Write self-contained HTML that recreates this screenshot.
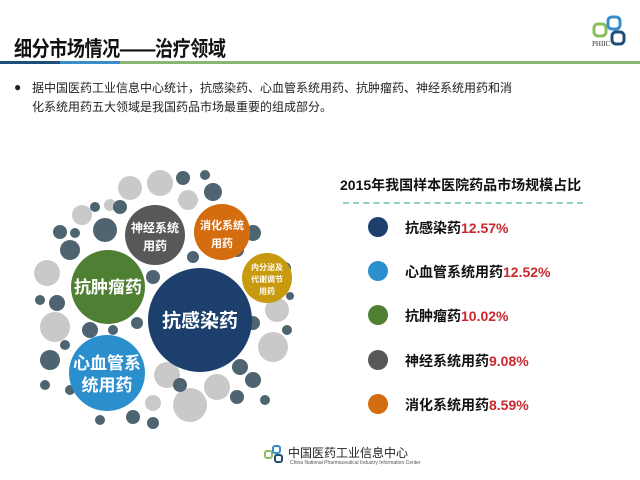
<!DOCTYPE html>
<html><head><meta charset="utf-8"><style>
body{margin:0;width:640px;height:480px;background:#fff;overflow:hidden;position:relative;font-family:"Liberation Sans","Noto Sans CJK SC",sans-serif}
.t{position:absolute;white-space:nowrap}
</style></head><body>
<div class="t" style="left:14px;top:33px;font-size:21px;font-weight:bold;color:#111;transform:scaleX(0.86);transform-origin:0 0;letter-spacing:-0.5px">细分市场情况——治疗领域</div>
<div style="position:absolute;left:0;top:61px;width:60px;height:3px;background:#1f4e79"></div>
<div style="position:absolute;left:60px;top:61px;width:60px;height:3px;background:#3a8dc8"></div>
<div style="position:absolute;left:120px;top:61px;width:520px;height:3px;background:#8ab573"></div>
<svg style="position:absolute;left:592px;top:14px" width="36" height="36" viewBox="0 0 36 36">
<rect x="2" y="10" width="12" height="12" rx="4" fill="none" stroke="#8bbf5a" stroke-width="3"/>
<rect x="16" y="3" width="12" height="12" rx="4" fill="none" stroke="#3a8dc8" stroke-width="3"/>
<rect x="20" y="18" width="12" height="12" rx="4" fill="none" stroke="#1f4e79" stroke-width="3"/>
<text x="0" y="32" font-size="7" font-family="Liberation Serif" fill="#333">PHIIC</text></svg>
<div class="t" style="left:14px;top:80px;font-size:12px;color:#222">●</div>
<div class="t" style="left:32px;top:79px;font-size:12px;color:#222;line-height:19px">据中国医药工业信息中心统计，抗感染药、心血管系统用药、抗肿瘤药、神经系统用药和消<br>化系统用药五大领域是我国药品市场最重要的组成部分。</div>

<svg style="position:absolute;left:0;top:0" width="330" height="440">
<g fill="#c9c9c9">
<circle cx="160" cy="183" r="13"/><circle cx="130" cy="188" r="12"/><circle cx="188" cy="200" r="10"/><circle cx="82" cy="215" r="10"/><circle cx="47" cy="273" r="13"/><circle cx="55" cy="327" r="15"/><circle cx="277" cy="310" r="12"/><circle cx="273" cy="347" r="15"/><circle cx="167" cy="375" r="13"/><circle cx="217" cy="387" r="13"/><circle cx="190" cy="405" r="17"/><circle cx="153" cy="403" r="8"/><circle cx="110" cy="205" r="6"/>
</g>
<g fill="#4e6470">
<circle cx="213" cy="192" r="9"/><circle cx="183" cy="178" r="7"/><circle cx="105" cy="230" r="12"/><circle cx="70" cy="250" r="10"/><circle cx="60" cy="232" r="7"/><circle cx="253" cy="233" r="8"/><circle cx="57" cy="303" r="8"/><circle cx="50" cy="360" r="10"/><circle cx="90" cy="330" r="8"/><circle cx="268" cy="290" r="7"/><circle cx="253" cy="323" r="7"/><circle cx="287" cy="330" r="5"/><circle cx="240" cy="367" r="8"/><circle cx="253" cy="380" r="8"/><circle cx="180" cy="385" r="7"/><circle cx="133" cy="417" r="7"/><circle cx="153" cy="423" r="6"/><circle cx="237" cy="397" r="7"/><circle cx="120" cy="207" r="7"/><circle cx="95" cy="207" r="5"/><circle cx="237" cy="250" r="7"/><circle cx="193" cy="257" r="6"/><circle cx="153" cy="277" r="7"/><circle cx="167" cy="300" r="7"/><circle cx="137" cy="323" r="6"/><circle cx="113" cy="330" r="5"/><circle cx="85" cy="270" r="8"/><circle cx="40" cy="300" r="5"/><circle cx="70" cy="390" r="5"/><circle cx="45" cy="385" r="5"/><circle cx="100" cy="420" r="5"/><circle cx="285" cy="268" r="6"/><circle cx="290" cy="296" r="4"/><circle cx="265" cy="400" r="5"/><circle cx="205" cy="175" r="5"/><circle cx="232" cy="212" r="4"/><circle cx="75" cy="233" r="5"/><circle cx="65" cy="345" r="5"/>
</g>
<circle cx="200" cy="320" r="52" fill="#1c3f6e"/>
<circle cx="107" cy="373" r="38" fill="#2b8fcd"/>
<circle cx="108" cy="287" r="37" fill="#4e7f32"/>
<circle cx="155" cy="235" r="30" fill="#58585b"/>
<circle cx="222" cy="232" r="28" fill="#d46c10"/>
<circle cx="267" cy="278" r="25" fill="#c79a10"/>
<g fill="#fff" font-weight="bold" text-anchor="middle" font-family="Liberation Sans,Noto Sans CJK SC,sans-serif">
<text x="200" y="327" font-size="19">抗感染药</text>
<text x="107" y="369" font-size="17">心血管系</text><text x="107" y="391" font-size="17">统用药</text>
<text x="108" y="293" font-size="17">抗肿瘤药</text>
<text x="155" y="232" font-size="12">神经系统</text><text x="155" y="250" font-size="12">用药</text>
<text x="222" y="229" font-size="11">消化系统</text><text x="222" y="247" font-size="11">用药</text>
<text x="267" y="270" font-size="8">内分泌及</text><text x="267" y="282" font-size="8">代谢调节</text><text x="267" y="294" font-size="8">用药</text>
</g>
</svg>

<div class="t" style="left:340px;top:175px;font-size:14px;font-weight:bold;color:#111">2015年我国样本医院药品市场规模占比</div>
<div style="position:absolute;left:343px;top:202px;width:240px;border-top:2px dashed #8fd0c0"></div>
<svg style="position:absolute;left:0;top:0" width="640" height="480">
<circle cx="378" cy="227" r="10" fill="#1c3f6e"/>
<circle cx="378" cy="271" r="10" fill="#2b8fcd"/>
<circle cx="378" cy="315" r="10" fill="#4e7f32"/>
<circle cx="378" cy="360" r="10" fill="#58585b"/>
<circle cx="378" cy="404" r="10" fill="#d46c10"/>
</svg>
<div class="t" style="left:405px;top:218px;font-size:14px;font-weight:bold;color:#111">抗感染药<span style="color:#c8282e">12.57%</span></div>
<div class="t" style="left:405px;top:262px;font-size:14px;font-weight:bold;color:#111">心血管系统用药<span style="color:#c8282e">12.52%</span></div>
<div class="t" style="left:405px;top:306px;font-size:14px;font-weight:bold;color:#111">抗肿瘤药<span style="color:#c8282e">10.02%</span></div>
<div class="t" style="left:405px;top:351px;font-size:14px;font-weight:bold;color:#111">神经系统用药<span style="color:#c8282e">9.08%</span></div>
<div class="t" style="left:405px;top:395px;font-size:14px;font-weight:bold;color:#111">消化系统用药<span style="color:#c8282e">8.59%</span></div>

<svg style="position:absolute;left:264px;top:444px" width="22" height="22" viewBox="0 0 22 22">
<rect x="1" y="7" width="7" height="7" rx="2" fill="none" stroke="#8bbf5a" stroke-width="2"/>
<rect x="9" y="2" width="7" height="7" rx="2" fill="none" stroke="#3a8dc8" stroke-width="2"/>
<rect x="11" y="11" width="7" height="7" rx="2" fill="none" stroke="#1f4e79" stroke-width="2"/></svg>
<div class="t" style="left:288px;top:444px;font-size:12px;color:#222">中国医药工业信息中心</div>
<div class="t" style="left:290px;top:460px;font-size:5px;color:#555">China National Pharmaceutical Industry Information Center</div>
</body></html>
